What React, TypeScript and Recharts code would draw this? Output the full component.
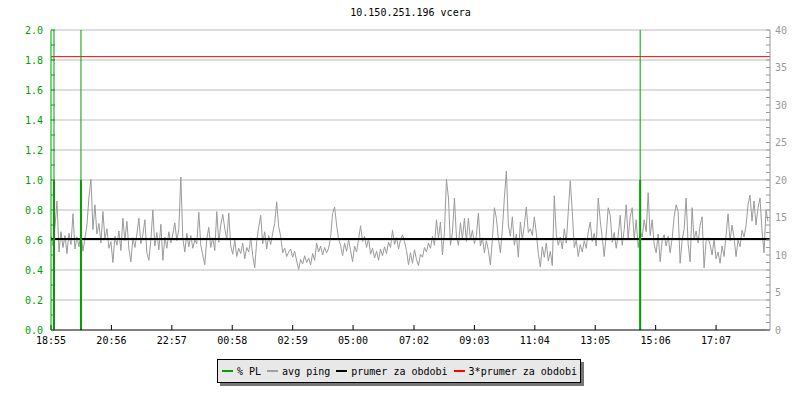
import { ComposedChart, Line, XAxis, YAxis, ReferenceLine } from 'recharts';

const title = '10.150.251.196 vcera';

// avg ping [ms], one sample every 4 minutes from 18:55
const sampleStepMin = 4;
const pingMs = [
  12.5, 11.2, 13.8, 17.2, 10.4, 13.1, 11.0, 12.6, 10.2, 12.9, 11.4, 15.5, 10.8, 12.4, 11.1, 13.0, 10.5, 12.2, 14.0, 17.7, 20.1, 13.4, 16.7, 12.8, 14.2, 11.6, 15.8, 12.1, 13.5, 10.9,
  11.8, 9.0, 12.5, 11.3, 13.2, 10.6, 14.9, 11.9, 14.5, 10.8, 9.1, 12.3, 11.0, 12.8, 14.9, 11.5, 12.7, 14.7, 10.3, 9.3, 12.0, 16.0, 11.2, 13.0, 10.7, 14.1, 9.3, 12.4, 10.9, 13.1,
  11.6, 12.8, 14.3, 11.9, 13.5, 20.4, 12.2, 10.4, 12.9, 11.1, 12.6, 10.9, 12.0, 11.5, 15.7, 11.3, 10.0, 8.7, 12.1, 13.7, 11.0, 12.3, 10.6, 15.8, 11.7, 14.0, 15.4, 13.6, 12.0, 15.6,
  11.2, 10.1, 12.0, 9.8, 10.9, 10.2, 11.6, 9.5, 11.0, 10.4, 12.3, 9.9, 8.3, 11.8, 13.7, 15.3, 11.5, 13.1, 10.8, 12.6, 11.4, 12.9, 14.2, 17.1, 13.8, 12.5, 10.3, 10.9, 9.8, 10.4,
  10.8, 9.7, 10.5, 9.2, 8.1, 9.4, 8.8, 9.9, 9.0, 9.6, 8.7, 10.2, 9.3, 11.6, 10.4, 11.2, 10.0, 11.0, 10.3, 10.9, 12.4, 15.5, 16.4, 14.0, 12.1, 11.3, 9.9, 11.6, 10.5, 12.0,
  10.6, 9.1, 11.2, 10.4, 12.1, 13.9, 11.8, 12.5, 11.0, 12.2, 10.1, 10.9, 9.6, 10.5, 9.3, 10.8, 9.9, 11.1, 10.2, 11.7, 11.0, 13.3, 11.4, 12.3, 10.8, 12.0, 12.7, 11.8, 10.6, 8.7,
  10.3, 8.9, 10.7, 9.4, 8.6, 10.1, 9.7, 11.0, 10.4, 11.6, 10.9, 12.5, 11.3, 14.7, 12.2, 14.4, 10.0, 13.1, 20.1, 17.6, 11.3, 13.0, 17.6, 12.4, 11.3, 14.3, 12.1, 14.9, 11.8, 14.9,
  12.0, 13.3, 11.5, 12.6, 15.6, 11.2, 12.3, 10.3, 11.9, 10.6, 8.7, 12.1, 16.3, 14.9, 12.2, 10.3, 13.4, 17.6, 21.2, 14.0, 12.5, 15.1, 11.3, 12.8, 9.7, 14.4, 12.0, 14.0, 16.4, 13.0,
  13.5, 12.6, 15.1, 12.9, 10.2, 8.4, 11.1, 9.7, 11.6, 9.2, 10.5, 8.6, 17.9, 12.7, 11.3, 12.4, 10.8, 13.5, 11.6, 15.8, 19.9, 15.8, 11.0, 12.0, 9.8, 11.4, 10.4, 11.9, 10.9, 13.1,
  14.4, 11.8, 12.9, 11.2, 17.6, 14.6, 12.3, 9.8, 12.8, 16.3, 15.3, 11.7, 13.0, 10.9, 12.6, 15.3, 11.3, 13.4, 16.7, 12.2, 15.1, 16.3, 12.0, 14.7, 11.0, 13.2, 12.4, 14.7, 13.1, 18.3,
  12.6, 14.7, 11.4, 10.3, 12.8, 9.1, 11.9, 12.7, 11.2, 12.5, 10.3, 12.2, 15.1, 16.7, 15.8, 8.9, 12.0, 13.4, 17.6, 11.5, 9.1, 16.3, 12.0, 13.2, 11.6, 14.0, 15.1, 8.3, 11.8, 12.3,
  11.4, 10.0, 12.1, 9.5, 10.4, 8.9, 11.2, 9.8, 12.6, 15.5, 11.9, 14.0, 12.3, 9.8, 12.0, 11.1, 13.3, 12.4, 13.9, 16.7, 18.0, 14.5, 17.2, 14.0, 16.3, 17.6, 13.3, 10.3, 16.0, 14.5,
];
const meanMs = 12.15;

// packet loss events: minute from start, height of the bar on the % PL axis
const plMinutes = [6, 60, 1180];
const plBarTop = [1.0, 1.0, 1.0];

const timeTicks = [0, 121, 242, 363, 484, 605, 727, 848, 969, 1090, 1211, 1332];
const timeLabels = ['18:55', '20:56', '22:57', '00:58', '02:59', '05:00', '07:02', '09:03', '11:04', '13:05', '15:06', '17:07'];
const plTicks = [0, 0.1, 0.2, 0.3, 0.4, 0.5, 0.6, 0.7, 0.8, 0.9, 1.0, 1.1, 1.2, 1.3, 1.4, 1.5, 1.6, 1.7, 1.8, 1.9, 2.0];
const gridLevels = [0.2, 0.4, 0.6, 0.8, 1.0, 1.2, 1.4, 1.6, 1.8, 2.0];
const pingTicks = Array.from({ length: 41 }, (_, i) => i);

const GREEN = '#00a000';
const GRAY = '#999999';
const FONT = '"DejaVu Sans Mono", monospace';

const legendItems = [
  { label: '% PL', color: GREEN },
  { label: 'avg ping', color: '#a0a0a0' },
  { label: 'prumer za obdobi', color: '#000000' },
  { label: '3*prumer za obdobi', color: '#ff0000' },
];

const rows = pingMs.map((ms, i) => ({ t: i * sampleStepMin, ms }));

const PlTick = (props: any) => {
  const { x, y, payload } = props;
  const v = payload.value as number;
  if (Math.round(v * 10) % 2 !== 0) return <g />;
  return (
    <text x={x} y={y} dy="0.35em" textAnchor="end" fill={GREEN} fontFamily={FONT} fontSize={10}>
      {v.toFixed(1)}
    </text>
  );
};

const PingTick = (props: any) => {
  const { x, y, payload } = props;
  const v = payload.value as number;
  if (v % 5 !== 0) return <g />;
  return (
    <text x={x} y={y} dy="0.35em" textAnchor="start" fill={GRAY} fontFamily={FONT} fontSize={10}>
      {v}
    </text>
  );
};

const PingLegend = () => (
  <div
    style={{
      position: 'absolute',
      left: 217,
      top: 359,
      width: 358,
      height: 22,
      paddingLeft: 4,
      border: '1px solid #000',
      background: '#e8e8e8',
      boxShadow: '3px 3px 0 #777',
      display: 'flex',
      alignItems: 'center',
      fontFamily: FONT,
      fontSize: 10,
      color: '#000',
      whiteSpace: 'pre',
    }}
  >
    {legendItems.map((item) => (
      <span key={item.label} style={{ display: 'flex', alignItems: 'center', marginRight: 6 }}>
        <span style={{ width: 11, height: 2, background: item.color, marginRight: 4 }} />
        <span>{item.label}</span>
      </span>
    ))}
  </div>
);

export default function App() {
  return (
    <div style={{ position: 'fixed', left: 0, top: 0, width: 800, height: 400, background: '#fff', fontFamily: FONT }}>
      <div style={{ position: 'absolute', left: 51, width: 719, top: 7, textAlign: 'center', fontSize: 10, color: '#000' }}>
        {title}
      </div>
      <ComposedChart width={800} height={400} data={rows} margin={{ top: 30, right: 0, bottom: 50, left: 0 }}>
        <XAxis
          dataKey="t"
          type="number"
          domain={[0, 1440]}
          ticks={timeTicks}
          interval={0}
          height={20}
          tickSize={-5}
          tickMargin={12}
          tickFormatter={(v: number) => timeLabels[timeTicks.indexOf(v)]}
          tick={{ fill: '#000', fontSize: 10, fontFamily: FONT }}
          stroke="#000"
        />
        <YAxis
          yAxisId="pl"
          orientation="left"
          width={51}
          type="number"
          domain={[0, 2]}
          allowDataOverflow
          ticks={plTicks}
          interval={0}
          tickSize={-4}
          tickMargin={12}
          tick={PlTick}
          stroke={GREEN}
        />
        <YAxis
          yAxisId="ping"
          orientation="right"
          width={30}
          domain={[0, 40]}
          allowDataOverflow
          ticks={pingTicks}
          interval={0}
          tickSize={-4}
          tickMargin={9}
          tick={PingTick}
          stroke={GRAY}
        />
        {gridLevels.map((g) => (
          <ReferenceLine key={`grid-${g}`} yAxisId="pl" y={g} stroke="#bbbbbb" strokeWidth={1} />
        ))}
        <Line
          yAxisId="ping"
          dataKey="ms"
          type="linear"
          stroke="#9a9a9a"
          strokeWidth={1}
          dot={false}
          isAnimationActive={false}
        />
        <ReferenceLine yAxisId="ping" y={meanMs} stroke="#000" strokeWidth={2} />
        <ReferenceLine yAxisId="ping" y={meanMs * 3} stroke="#ff0000" strokeWidth={1} />
        {plMinutes.map((t) => (
          <ReferenceLine key={`thin-${t}`} yAxisId="pl" x={t} stroke={GREEN} strokeWidth={1} />
        ))}
        {plMinutes.map((t, i) => (
          <ReferenceLine
            key={`bar-${t}`}
            yAxisId="pl"
            segment={[{ x: t, y: 0 }, { x: t, y: plBarTop[i] }]}
            stroke={GREEN}
            strokeWidth={2}
          />
        ))}
      </ComposedChart>
      <PingLegend />
    </div>
  );
}
